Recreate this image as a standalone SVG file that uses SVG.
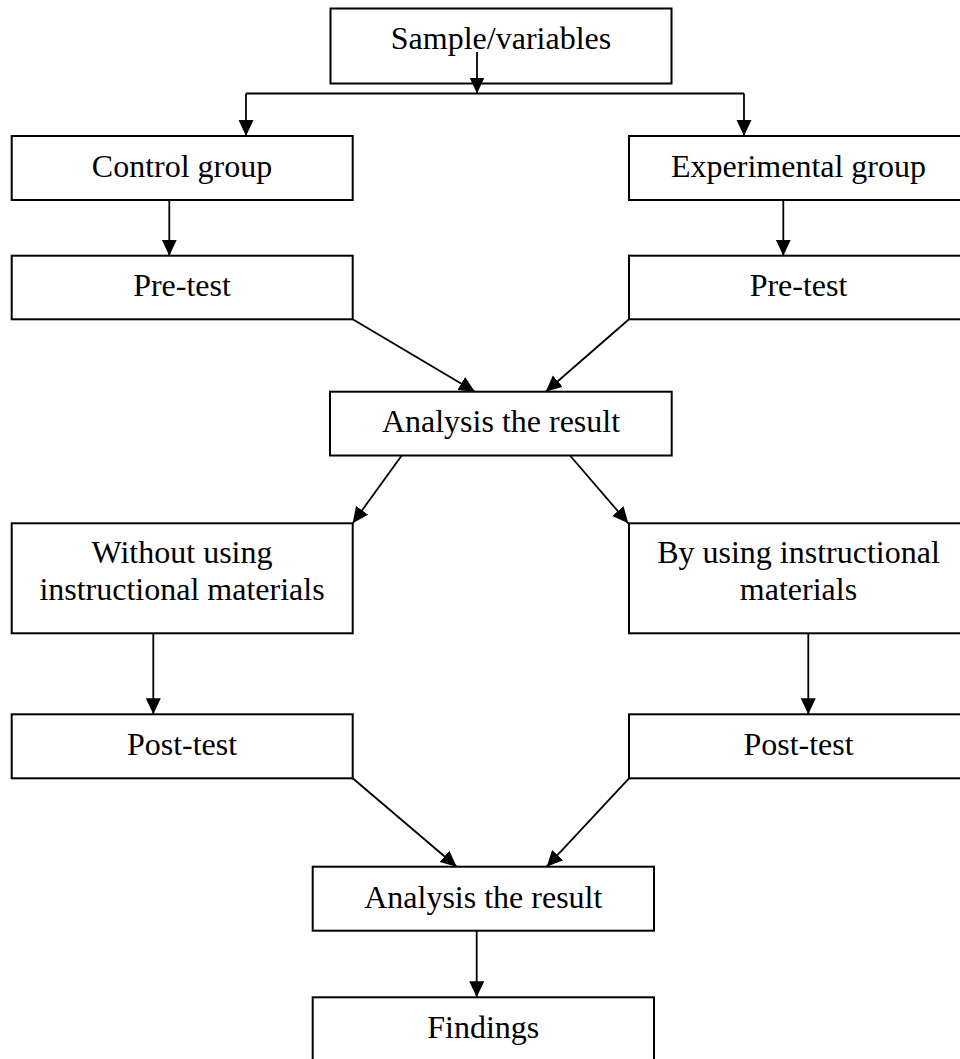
<svg xmlns="http://www.w3.org/2000/svg" width="960" height="1059" viewBox="0 0 960 1059">
<style>
.box{fill:#fff;stroke:#000;stroke-width:2}
.t{font-family:"Liberation Serif","Times New Roman",serif;font-size:32px;fill:#000;text-anchor:middle}
.c{fill:none;stroke:#000;stroke-width:1.8;marker-end:url(#ah)}
.p{fill:none;stroke:#000;stroke-width:1.8}
</style>
<defs>
<marker id="ah" markerUnits="userSpaceOnUse" markerWidth="17" markerHeight="16" refX="16" refY="7.5" orient="auto">
<path d="M0,0 L16,7.5 L0,15 Z" fill="#000"/>
</marker>
</defs>
<rect width="960" height="1059" fill="#fff"/>
<g id="n-sample"><rect class="box" x="330.5" y="8.5" width="341" height="75"/><text class="t" x="501" y="49">Sample/variables</text></g>
<g id="n-control"><rect class="box" x="11.7" y="136" width="341" height="64"/><text class="t" x="182" y="177">Control group</text></g>
<g id="n-experimental"><rect class="box" x="629" y="136" width="340" height="64"/><text class="t" x="798.5" y="177">Experimental group</text></g>
<g id="n-pretest1"><rect class="box" x="11.7" y="255.7" width="341" height="63.6"/><text class="t" x="182" y="296">Pre-test</text></g>
<g id="n-pretest2"><rect class="box" x="629" y="255.7" width="340" height="63.6"/><text class="t" x="798.5" y="296">Pre-test</text></g>
<g id="n-analysis1"><rect class="box" x="330" y="391.7" width="341.7" height="63.8"/><text class="t" x="501" y="431.5">Analysis the result</text></g>
<g id="n-without"><rect class="box" x="11.7" y="523.3" width="341" height="110"/><text class="t" x="182" y="563">Without using</text><text class="t" x="182" y="600">instructional materials</text></g>
<g id="n-by"><rect class="box" x="629" y="523.3" width="340" height="110"/><text class="t" x="798.5" y="563">By using instructional</text><text class="t" x="798.5" y="600">materials</text></g>
<g id="n-posttest1"><rect class="box" x="11.7" y="714.3" width="341" height="64"/><text class="t" x="182" y="755">Post-test</text></g>
<g id="n-posttest2"><rect class="box" x="629" y="714.3" width="340" height="64"/><text class="t" x="798.5" y="755">Post-test</text></g>
<g id="n-analysis2"><rect class="box" x="312.7" y="866.7" width="341.3" height="64"/><text class="t" x="483.3" y="908">Analysis the result</text></g>
<g id="n-findings"><rect class="box" x="312.7" y="997.3" width="341.3" height="70"/><text class="t" x="483.3" y="1038">Findings</text></g>
<g id="connectors">
<path class="c" d="M477,52 L477,93.5"/>
<path class="p" d="M246,93.5 L744,93.5"/>
<path class="c" d="M246,93.5 L246,136"/>
<path class="c" d="M744,93.5 L744,136"/>
<path class="c" d="M169.3,200 L169.3,255.7"/>
<path class="c" d="M783.3,200 L783.3,255.7"/>
<path class="c" d="M352.7,319.3 L475,391.7"/>
<path class="c" d="M629,319.3 L545.7,391.7"/>
<path class="c" d="M401.7,455.5 L352.7,523.3"/>
<path class="c" d="M570,455.5 L628.3,523.3"/>
<path class="c" d="M153.3,633.3 L153.3,714.3"/>
<path class="c" d="M808.3,633.3 L808.3,714.3"/>
<path class="c" d="M352.7,778.3 L456.7,866.7"/>
<path class="c" d="M629,778.3 L546.7,866.7"/>
<path class="c" d="M476.7,930.7 L476.7,997.3"/>
</g>
</svg>
